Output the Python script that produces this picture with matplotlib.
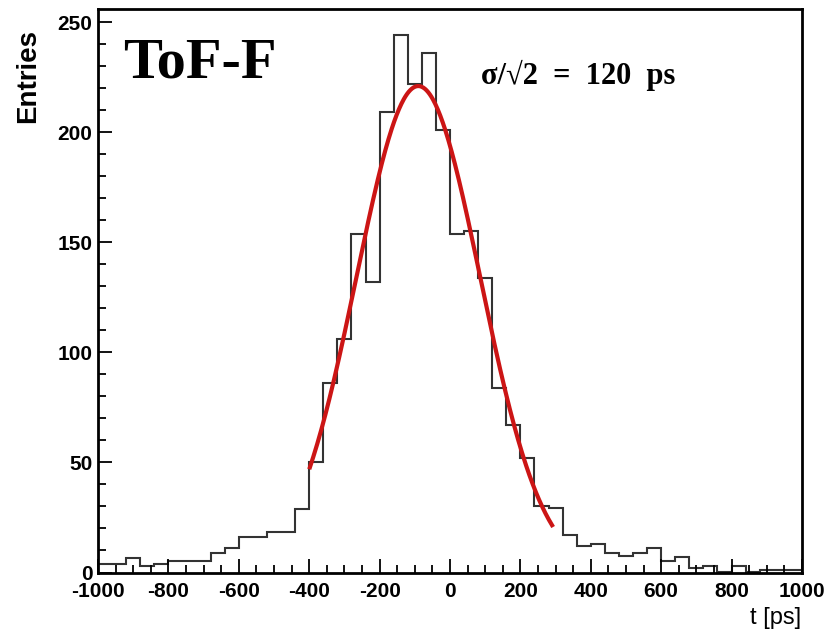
import matplotlib.pyplot as plt
import numpy as np
from matplotlib.ticker import MultipleLocator

plt.rcParams['axes.unicode_minus'] = False

# histogram bin edges: 50 bins of 40 ps from -1000 to 1000
edges = np.arange(-1000, 1001, 40)

# entries per bin
counts = [4, 4, 6.5, 3, 4, 5, 5, 5, 9, 11,
          16, 16, 18.5, 18.5, 29, 50, 86, 106, 154, 132,
          209, 244, 222, 236, 201, 154, 155, 134, 84, 67,
          52, 30, 29.5, 17, 12, 13, 9, 7.5, 9, 11,
          5, 7, 2, 3, 0.3, 3, 0.3, 1, 1, 1]

# gaussian fit drawn over [-400, 290]
fit_amp = 221
fit_mean = -90
fit_sigma = 176
fit_range = (-398, 290)

fig = plt.figure(figsize=(8.29, 6.34), dpi=100)
ax = fig.add_axes([0.1182, 0.097, 0.8492, 0.8888])

ax.stairs(counts, edges, color="#333333", lw=1.5)

xf = np.linspace(fit_range[0], fit_range[1], 300)
yf = fit_amp * np.exp(-0.5 * ((xf - fit_mean) / fit_sigma) ** 2)
ax.plot(xf, yf, color="#cc1515", lw=3)

ax.set_xlim(-1000, 1000)
ax.set_ylim(0, 256)
ax.xaxis.set_major_locator(MultipleLocator(200))
ax.xaxis.set_minor_locator(MultipleLocator(50))
ax.yaxis.set_major_locator(MultipleLocator(50))
ax.yaxis.set_minor_locator(MultipleLocator(10))
ax.tick_params(which="both", direction="in", width=1.3, colors="black")
ax.tick_params(which="major", length=10, labelsize=15, pad=4)
ax.tick_params(which="minor", length=6)
ax.tick_params(axis="x", pad=7)
for lab in ax.get_xticklabels() + ax.get_yticklabels():
    lab.set_family(["Liberation Sans Narrow", "Liberation Sans"])
    lab.set_fontweight("bold")
for s in ax.spines.values():
    s.set_linewidth(2)

ax.text(-930, 243, "ToF-F", family="Liberation Serif", fontweight="bold",
        fontsize=42, va="top", ha="left")
ax.text(88, 226, "σ/√2  =  120  ps", family="Liberation Serif",
        fontweight="bold", fontsize=22, va="center", ha="left")

fig.text(0.034, 0.955, "Entries", rotation=90, ha="center", va="top",
         fontsize=20, fontweight="bold", family="Liberation Sans")
fig.text(0.966, 0.008, "t [ps]", ha="right", va="bottom",
         fontsize=17, family=["Liberation Sans Narrow", "Liberation Sans"])

fig.savefig("out.png", dpi=100)
